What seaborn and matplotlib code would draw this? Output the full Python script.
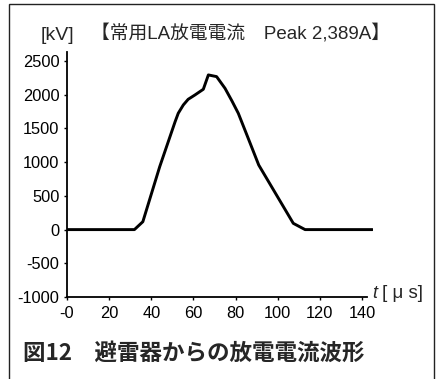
import matplotlib
matplotlib.use('Agg')
import matplotlib.pyplot as plt
import seaborn as sns
import pandas as pd
from matplotlib.patches import Rectangle

# ---- data ----
time_us = [0, 32, 36, 44, 51.3, 52.8, 55.2, 57.5, 60.7, 64.7, 67.1, 69.4, 71, 75,
           78.3, 81.3, 86, 91, 107.4, 113, 145]
current = [0, 0, 117, 933, 1600, 1726, 1849, 1933, 1997, 2082, 2295, 2280, 2270,
           2096, 1908, 1726, 1355, 958, 93, 0, 0]
x_ticks = [0, 20, 40, 60, 80, 100, 120, 140]
x_labels = ["-0", "20", "40", "60", "80", "100", "120", "140"]
y_ticks = [-1000, -500, 0, 500, 1000, 1500, 2000, 2500]
y_labels = ["-1000", "-500", "0", "500", "1000", "1500", "2000", "2500"]
title_text = "【常用LA放電電流　Peak 2,389A】"
y_unit = "[kV]"
x_unit_t = "t"
x_unit_rest = "[ μ s]"
caption = "図12　避雷器からの放電電流波形"

df = pd.DataFrame({"t": time_us, "I": current})

sns.set_style("ticks")
plt.rcParams['font.family'] = ['Liberation Sans', 'Noto Sans CJK JP', 'DejaVu Sans']

W, H = 437, 379
fig = plt.figure(figsize=(W / 100, H / 100), dpi=100)

ax_left, ax_right = 67, 372.5
ax_top, ax_bottom = 52, 297
ax = fig.add_axes([ax_left / W, 1 - ax_bottom / H, (ax_right - ax_left) / W, (ax_bottom - ax_top) / H])

sns.lineplot(data=df, x="t", y="I", ax=ax, color="black", linewidth=2.1,
             estimator=None, sort=False)

ax.set_xlim(0, 145)
ax.set_ylim(-1000, 2635)
ax.set_xticks(x_ticks)
ax.set_xticklabels(x_labels)
ax.set_yticks(y_ticks)
ax.set_yticklabels(y_labels)
ax.set_xlabel("")
ax.set_ylabel("")
for s in ["top", "right"]:
    ax.spines[s].set_visible(False)
ax.spines["bottom"].set_bounds(0, 142.4)
for s in ["left", "bottom"]:
    ax.spines[s].set_linewidth(1.3)
    ax.spines[s].set_color("black")
ax.tick_params(axis="both", direction="out", length=2.5, width=1.0, colors="black",
               labelsize=11.8)
ax.tick_params(axis="x", pad=4)
ax.tick_params(axis="y", pad=3)
ax.set_facecolor("white")

# texts
fig.text(240.5 / W, 1 - 33 / H, title_text, ha="center", va="center", fontsize=13.5,
         family=['Liberation Sans', 'Noto Sans CJK JP'])
fig.text(57.5 / W, 1 - 36 / H, y_unit, ha="center", va="center", fontsize=14)
fig.text(372 / W, 1 - 294 / H, x_unit_t, ha="left", va="center", fontsize=13, style="italic")
fig.text(382 / W, 1 - 294 / H, x_unit_rest, ha="left", va="center", fontsize=13.5,
         family=['Liberation Sans', 'Noto Sans CJK JP'])
fig.text(23 / W, 1 - 353 / H, caption, ha="left", va="center", fontsize=16.2,
         fontweight="bold", family=['Noto Sans CJK JP', 'Liberation Sans'])

# outer frame
fig.patches.append(Rectangle((9 / W, -0.05), (434 - 9) / W, 1.05 - 4 / H,
                             transform=fig.transFigure, fill=False,
                             edgecolor="#222222", linewidth=1.0))

fig.savefig("out.png", dpi=100)
